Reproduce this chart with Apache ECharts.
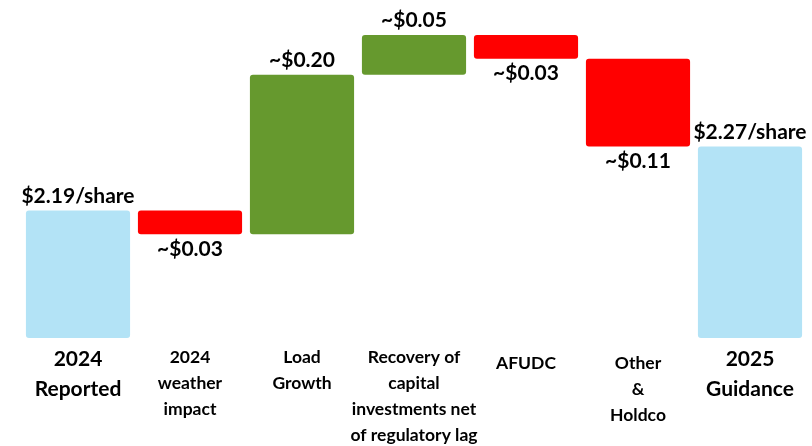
<!DOCTYPE html>
<html>
<head>
<meta charset="utf-8">
<script src="https://cdn.jsdelivr.net/npm/echarts@6/dist/echarts.min.js"></script>
<style>
    html, body { margin: 0; padding: 0; background: #fff; }
    #chart { width: 812px; height: 446px; }
</style>
</head>
<body>
<div id="chart"></div>
<script>
// EPS bridge, 2024 reported -> 2025 guidance ($/share)
const categories = ['2024\nReported', '2024\nweather\nimpact', 'Load\nGrowth',
    'Recovery of\ncapital\ninvestments net\nof regulatory lag', 'AFUDC', 'Other\n&\nHoldco', '2025\nGuidance'];
const values = [2.19, -0.03, 0.20, 0.05, -0.03, -0.11, 2.27];
const isTotal = [true, false, false, false, false, false, true];
const valueLabels = ['$2.19/share', '~$0.03', '~$0.20', '~$0.05', '~$0.03', '~$0.11', '$2.27/share'];

const BLUE = '#b3e3f6';
const GREEN = '#66992e';
const RED = '#ff0000';
const FONT = 'Lato, "Open Sans", sans-serif';

function buildSeries() {
    const base = [];
    const bars = [];
    let running = 0;
    values.forEach((v, i) => {
        let color, lo, h, pos;
        if (isTotal[i]) {
            lo = 0; h = v; running = v; color = BLUE; pos = 'top';
        } else {
            lo = v < 0 ? running + v : running;
            h = Math.abs(v);
            running += v;
            color = v < 0 ? RED : GREEN;
            pos = v < 0 ? 'bottom' : 'top';
        }
        base.push(lo);
        bars.push({
            value: h,
            itemStyle: { color: color },
            label: { position: pos, formatter: valueLabels[i] }
        });
    });
    return { base, bars };
}

const { base, bars } = buildSeries();

const chart = echarts.init(document.getElementById('chart'));
chart.setOption({
    animation: false,
    grid: { left: 22, right: 6, top: 3, bottom: 108, outerBoundsMode: 'none' },
    xAxis: {
        type: 'category',
        data: categories.map((c, i) => ({
            value: c,
            textStyle: isTotal[i]
                ? { fontSize: 21, lineHeight: 30 }
                : (c === 'AFUDC' || c.startsWith('Other'))
                    ? { fontSize: 17.5, lineHeight: 26, padding: [6, 0, 0, 0] }
                    : { fontSize: 17.5, lineHeight: 26 }
        })),
        axisLine: { show: false },
        axisTick: { show: false },
        axisLabel: {
            interval: 0,
            margin: 6,
            color: '#000',
            fontWeight: 'bold',
            fontFamily: FONT
        }
    },
    yAxis: {
        type: 'value',
        min: 2.03,
        max: 2.45,
        show: false,
        splitLine: { show: false }
    },
    series: [
        {
            type: 'bar',
            stack: 'wf',
            data: base,
            itemStyle: { color: 'transparent' },
            silent: true,
            barCategoryGap: '7%'
        },
        {
            type: 'bar',
            stack: 'wf',
            data: bars,
            barCategoryGap: '7%',
            itemStyle: { borderRadius: 3 },
            label: {
                show: true,
                color: '#000',
                fontSize: 21,
                fontWeight: 'bold',
                fontFamily: FONT,
                distance: 4
            }
        }
    ]
});

window.addEventListener('resize', () => chart.resize());
</script>
</body>
</html>
